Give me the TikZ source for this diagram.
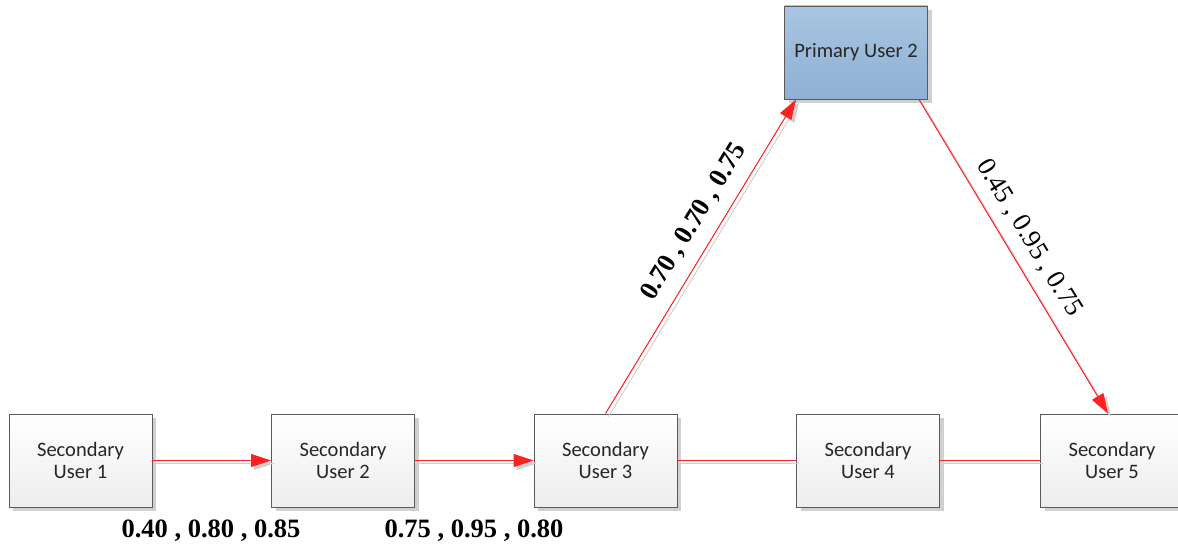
\documentclass[tikz,border=0pt]{standalone}
\usepackage{fontspec}
\setmainfont{Liberation Serif}
\newfontfamily\boxfont{Carlito}
\usetikzlibrary{arrows.meta,shadows}
\definecolor{boxline}{HTML}{5A5A5A}
\definecolor{primtop}{HTML}{A9C5E1}
\definecolor{primbot}{HTML}{8DB0D4}
\definecolor{shadowgray}{HTML}{D0D0D0}
\definecolor{linkred}{HTML}{FF2020}
\begin{document}
\begin{tikzpicture}[x=1pt,y=-1pt,
  userbox/.style={draw=boxline, line width=0.9pt, minimum width=143pt, minimum height=93pt,
    inner sep=0pt, align=center, text=black!85,
    font=\boxfont\fontsize{20.5}{22}\selectfont,
    top color=white, bottom color=black!7,
    drop shadow={shadow xshift=4pt, shadow yshift=-4pt, fill=shadowgray, opacity=1}},
  primbox/.style={userbox, top color=primtop, bottom color=primbot},
  link/.style={draw=linkred, line width=1pt},
  arr/.style={link, -{Triangle[length=20pt,width=13pt]}, fill=red},
  shd/.style={draw=shadowgray, line width=1pt, transform canvas={xshift=3pt,yshift=-3pt}},
  shdarr/.style={shd, -{Triangle[length=20pt,width=13pt]}},
  lbl/.style={font=\bfseries\fontsize{26.5}{30}\selectfont, inner sep=0pt},
  lblr/.style={font=\fontsize{26.5}{30}\selectfont, inner sep=0pt}
]
\useasboundingbox (0,0) rectangle (1178,548);

\node[userbox] (su1) at (80.5,460.5) {Secondary\\User 1};
\node[userbox] (su2) at (343,460.5) {Secondary\\User 2};
\node[userbox] (su3) at (605.5,460.5) {Secondary\\User 3};
\node[userbox] (su4) at (868,460.5) {Secondary\\User 4};
\node[userbox] (su5) at (1112,460.5) {Secondary\\User 5};
\node[primbox] (pu2) at (856,52.5) {Primary User 2};

\coordinate (p3) at ([xshift=12pt]pu2.south west);
\coordinate (p5) at ([xshift=-9pt]pu2.south east);
\coordinate (s5) at ([xshift=-4pt]su5.north);

% shadow lines
\draw[shdarr] (su1.east) -- (su2.west);
\draw[shdarr] (su2.east) -- (su3.west);
\draw[shd] (su3.east) -- (su4.west);
\draw[shd] (su4.east) -- (su5.west);
\draw[shdarr] (su3.north) -- (p3);
\draw[shdarr] (p5) -- (s5);

% red connectors
\draw[arr] (su1.east) -- (su2.west);
\draw[arr] (su2.east) -- (su3.west);
\draw[link] (su3.east) -- (su4.west);
\draw[link] (su4.east) -- (su5.west);
\draw[arr] (su3.north) -- (p3);
\draw[arr] (p5) -- (s5);

% labels
\node[lbl] (l1) at (211,531) {0.40 , 0.80 , 0.85};
\node[lbl] (l2) at (474,531) {0.75 , 0.95 , 0.80};
\node[lbl, rotate=58.5] (l3) at (694,222) {0.70 , 0.70 , 0.75};
\node[lblr, rotate=-58.5] (l4) at (1029,238) {0.45 , 0.95 , 0.75};
\end{tikzpicture}
\end{document}
